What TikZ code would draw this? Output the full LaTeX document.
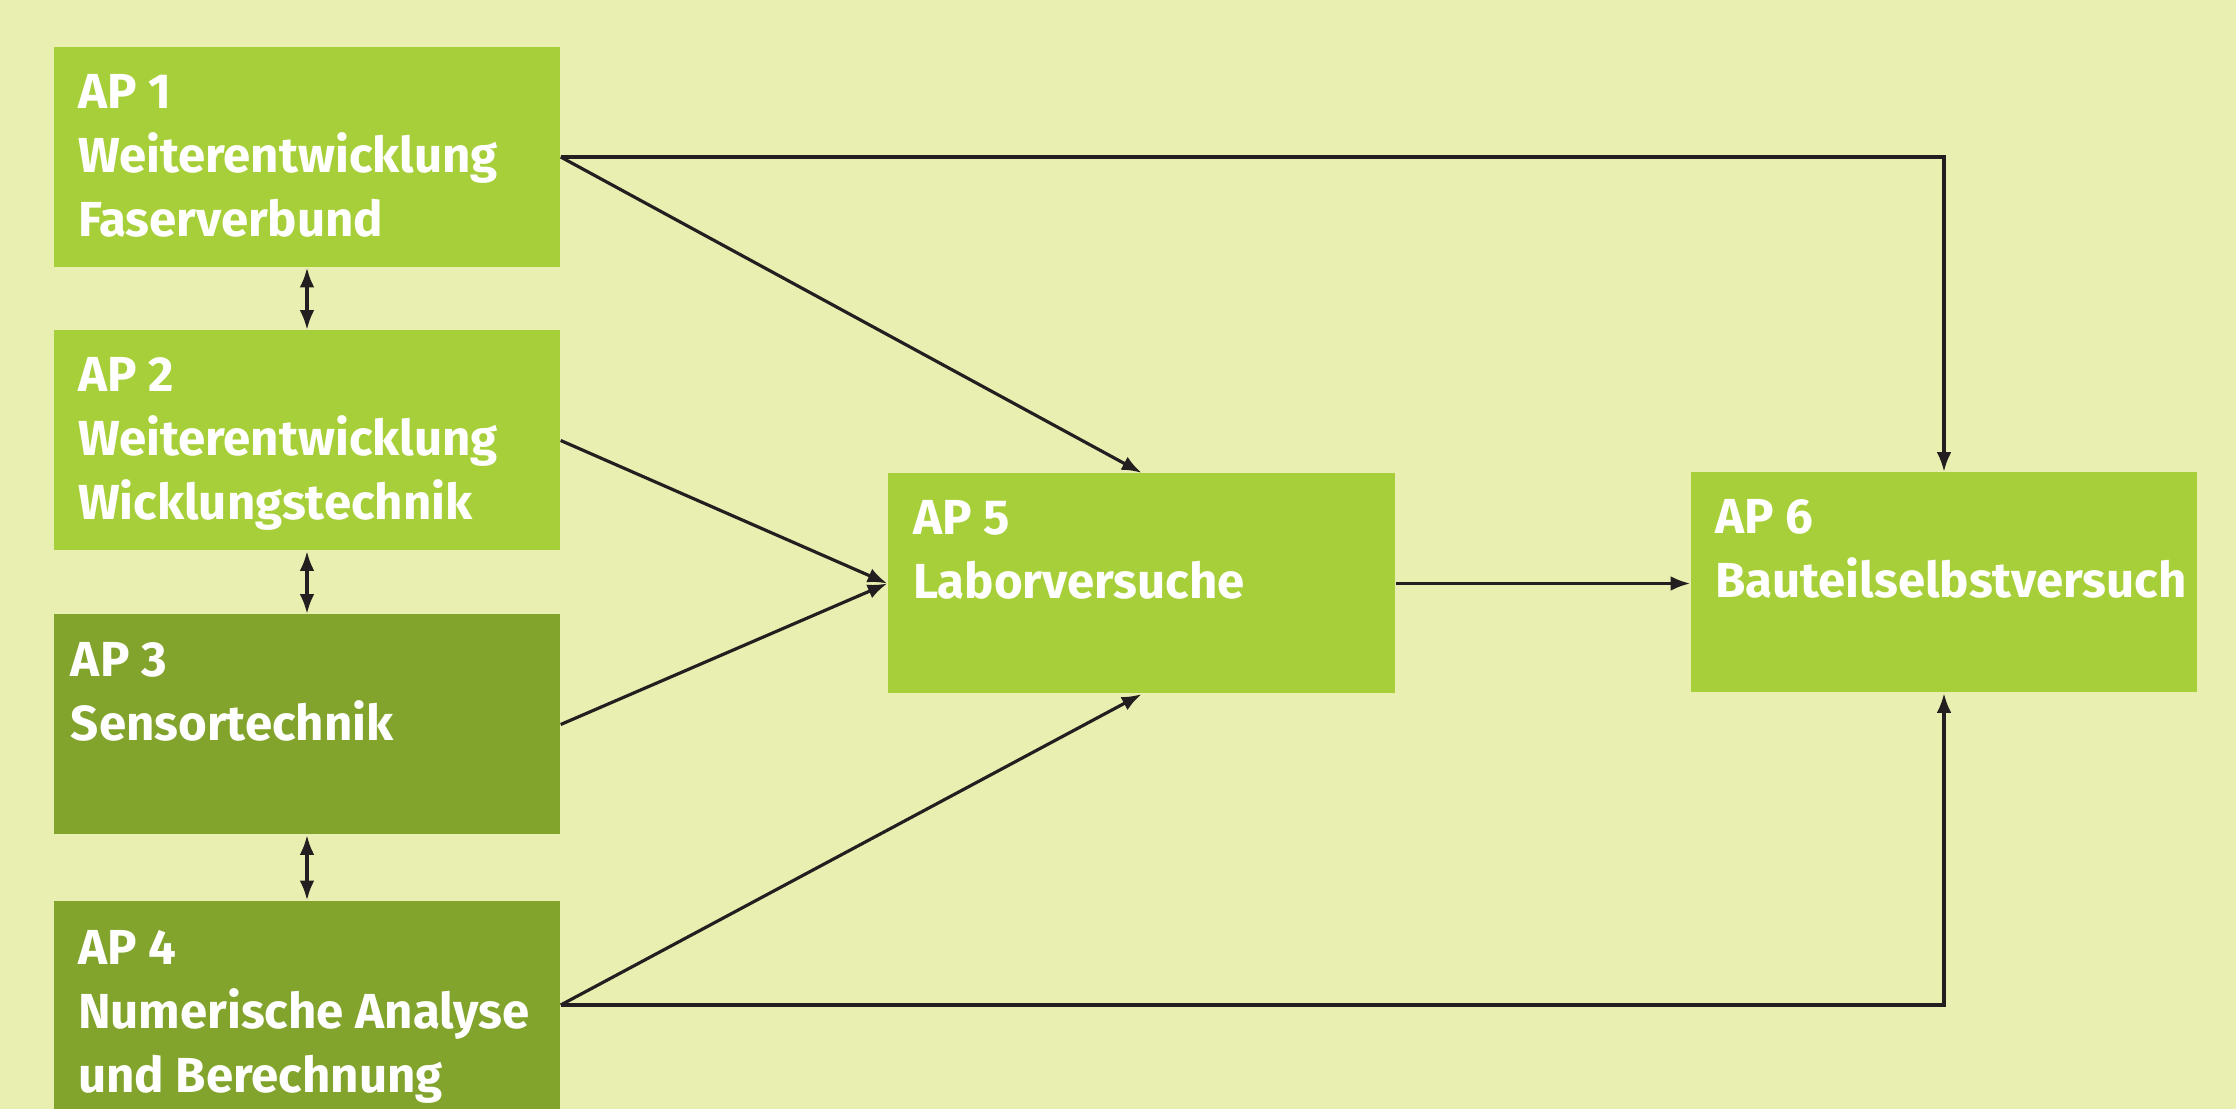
\documentclass[tikz,border=0pt]{standalone}
\usepackage{fontspec}
\setsansfont{Fira Sans}
\usepackage{tikz}
\usetikzlibrary{arrows.meta}
\definecolor{bgcol}{HTML}{E8EFB0}
\definecolor{lightap}{HTML}{A7CF3A}
\definecolor{darkap}{HTML}{82A32C}
\definecolor{linecol}{HTML}{231F20}

\begin{document}
\begin{tikzpicture}[
		apbox/.style={rectangle, inner sep=0pt, minimum width=5.06cm, minimum height=2.2cm},
		aptext/.style={anchor=north west, inner sep=0pt, align=left, text=white,
			font=\sffamily\bfseries\fontsize{14}{18.2}\selectfont},
		conn/.style={-{Latex[length=5.6pt,width=4.2pt]}, line width=0.9pt, draw=linecol},
		dconn/.style={{Latex[length=5.6pt,width=4.2pt]}-{Latex[length=5.6pt,width=4.2pt]}, line width=0.9pt, draw=linecol}]
		\useasboundingbox (0,0) rectangle (22.36,-11.09);
		\fill[bgcol] (0,0) rectangle (22.36,-11.09);
		\node[apbox, fill=lightap] (ap1) at (3.07,-1.57) {};
		\node[aptext] at ([shift={(0.24,-0.27)}]ap1.north west) {AP 1\\Weiterentwicklung\\Faserverbund};
		\node[apbox, fill=lightap] (ap2) at (3.07,-4.405) {};
		\node[aptext] at ([shift={(0.24,-0.27)}]ap2.north west) {AP 2\\Weiterentwicklung\\Wicklungstechnik};
		\node[apbox, fill=darkap] (ap3) at (3.07,-7.245) {};
		\node[aptext] at ([shift={(0.17,-0.28)}]ap3.north west) {AP 3\\Sensortechnik};
		\node[apbox, fill=darkap, minimum height=2.08cm] (ap4) at (3.07,-10.05) {};
		\node[aptext] at ([shift={(0.24,-0.29)}]ap4.north west) {AP 4\\Numerische Analyse\\und Berechnung};
		\node[apbox, fill=lightap, minimum width=5.07cm] (ap5) at (11.415,-5.835) {};
		\node[aptext] at ([shift={(0.25,-0.27)}]ap5.north west) {AP 5\\Laborversuche};
		\node[apbox, fill=lightap] (ap6) at (19.44,-5.825) {};
		\node[aptext] at ([shift={(0.24,-0.27)}]ap6.north west) {AP 6\\Bauteilselbstversuch};
		\draw[dconn] (ap1) -- (ap2);
		\draw[dconn] (ap2) -- (ap3);
		\draw[dconn] (ap3) -- (ap4);
		\draw[conn] (ap1.east) -| (ap6.north);
		\draw[conn] (ap1.east) -- (ap5.north);
		\draw[conn] (ap2.east) -- (ap5.west);
		\draw[conn] (ap3.east) -- (ap5.west);
		\draw[conn] (ap4.east) -- (ap5.south);
		\draw[conn] (ap4.east) -| (ap6.south);
		\draw[conn] (ap5.east) -- (ap5.east -| ap6.west);
	\end{tikzpicture}
\end{document}
